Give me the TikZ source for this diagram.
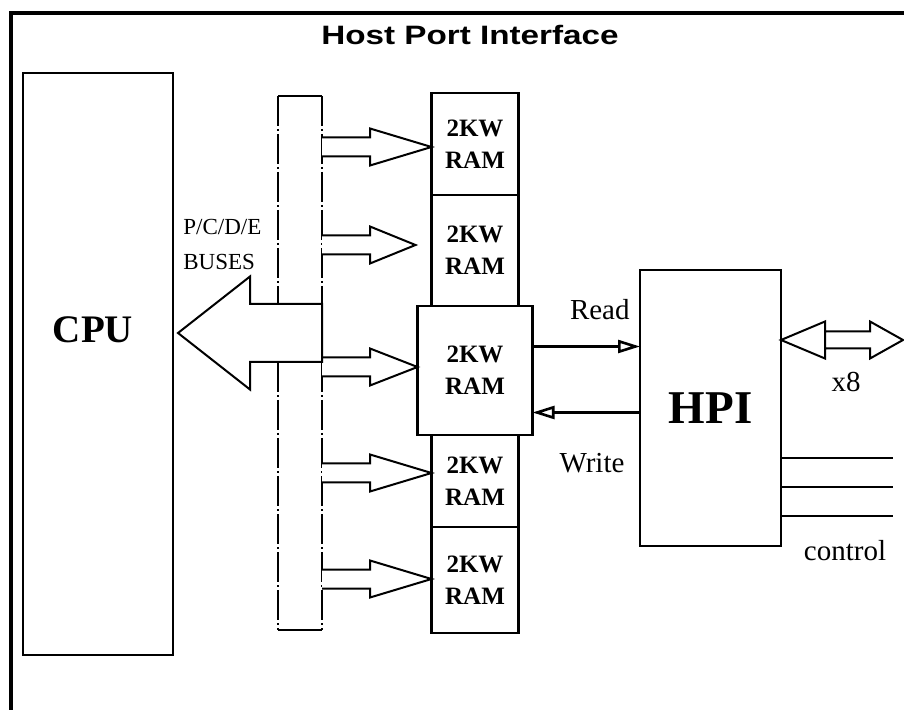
\documentclass[tikz,border=0pt]{standalone}
\usepackage{fontspec}
\setmainfont{Liberation Serif}
\newfontfamily\titlefont[FakeStretch=1.25]{Liberation Sans}
\usetikzlibrary{arrows.meta,positioning,calc}
\tikzset{
  blk/.style    ={rectangle, draw, line width=1.3pt, inner sep=0pt, outer sep=0pt},
  ram/.style    ={blk, minimum width=43.5pt, align=center,
                  font=\fontsize{12.5}{16}\selectfont\bfseries},
  blkarr/.style ={draw, line width=1pt, line join=miter, fill=white},
  rwarr/.style  ={-{Triangle[open,length=11pt,width=6.5pt]}, line width=1.3pt},
  lbl/.style    ={font=\fontsize{14.5}{17}\selectfont, inner sep=0pt},
  dashdot/.style={line width=.9pt, dash pattern=on 15pt off 1.5pt on 1pt off 1.5pt},
}

\begin{document}
\begin{tikzpicture}[x=0.5pt,y=-0.5pt]
  \useasboundingbox (0,0) rectangle (904,710);
  \draw[line width=1.6pt] (11,710) -- (11,13) -- (904,13);
  \node[font=\titlefont\fontsize{13.3}{16}\selectfont\bfseries, inner sep=0pt, anchor=base] (title) at (470,45) {Host Port Interface};

  % cpu and bus
  \node[blk, minimum width=75pt, minimum height=291pt] (cpu) at (98,364) {};
  \node[font=\fontsize{19.5}{22}\selectfont\bfseries, inner sep=0pt, anchor=base] (cpulbl) at (93,343) {CPU};
  \node[inner sep=0pt, outer sep=0pt, minimum width=22pt, minimum height=267pt] (bus) at (300,363) {};
  \draw[line width=.9pt] (bus.north west) -- (bus.north east) (bus.south west) -- (bus.south east);
  \draw[dashdot] (bus.north west) -- (bus.south west) (bus.north east) -- (bus.south east);
  \node[font=\fontsize{11.5}{17.5}\selectfont, align=left, inner sep=0pt, anchor=north west] (buslbl) at (183,219) {P/C/D/E\\BUSES};

  % ram blocks
  \node[ram, minimum height=51pt] (r1) at (475,144) {2KW\\RAM};
  \node[ram, minimum height=55.5pt, below=0pt of r1] (r2) {2KW\\RAM};
  \node[ram, minimum width=57.5pt, minimum height=64.5pt, below=0pt of r2] (r3) {2KW\\RAM};
  \node[ram, minimum height=46pt, below=0pt of r3] (r4) {2KW\\RAM};
  \node[ram, minimum height=53pt, below=0pt of r4] (r5) {2KW\\RAM};

  \foreach \r/\dy/\gap in {r1/3/0, r2/-5.5/16, r3/-3.5/0, r4/-8/0, r5/-1/0}{
    \path (bus.east |- \r.west) ++(0,\dy) coordinate (s);
    \path (\r.west) ++(-\gap,\dy) coordinate (t);
    \draw[blkarr] ($(s)+(0,-9.5)$) -- ++(48,0) -- ++(0,-9) -- (t) -- ($(s)+(48,18.5)$) -- ++(0,-9) -- ++(-48,0);
  }

  % bus to cpu
  \coordinate (cputip) at ([xshift=2.5pt]cpu.east |- 0,333);
  \coordinate (bs) at (bus.east |- cputip);
  \draw[blkarr] ($(bs)+(0,-29)$) -- ++(-72,0) -- ++(0,-27.5) -- (cputip) -- ($(bs)+(-72,56.5)$) -- ++(0,-27.5) -- ++(72,0) -- cycle;

  % hpi
  \node[blk, minimum width=70.5pt, minimum height=138pt, font=\fontsize{23.5}{26}\selectfont\bfseries] (hpi) at (710.5,408) {HPI};
  \draw[rwarr] ([yshift=12pt]r3.east) -- ([yshift=12pt]r3.east -| hpi.west);
  \draw[rwarr] ([yshift=-21pt]r3.east -| hpi.west) -- ([yshift=-21pt]r3.east);
  \node[lbl, anchor=base east] (rdlbl) at (630,320) {Read};
  \node[lbl, anchor=base] (wrlbl) at (592,473) {Write};

  % host side
  \coordinate (hostbus) at (903,340);
  \coordinate (hl) at (hpi.east |- hostbus);
  \draw[blkarr] (hl) -- ++(44,-18.5) -- ++(0,37) -- cycle
    ($(hl)+(44,-8.5)$) -- ++(45,0) -- ++(0,-10) -- (hostbus) -- ++(-33,18.5) -- ++(0,-10) -- ++(-45,0);
  \node[lbl, anchor=base] (x8lbl) at (846,392) {x8};
  \foreach \y [count=\i] in {458,487,516}{
    \coordinate (ctl\i) at (893,\y);
    \draw[line width=1.3pt] (hpi.east |- ctl\i) -- (ctl\i);
  }
  \node[lbl, anchor=base] (ctllbl) at (845,560) {control};
\end{tikzpicture}
\end{document}
